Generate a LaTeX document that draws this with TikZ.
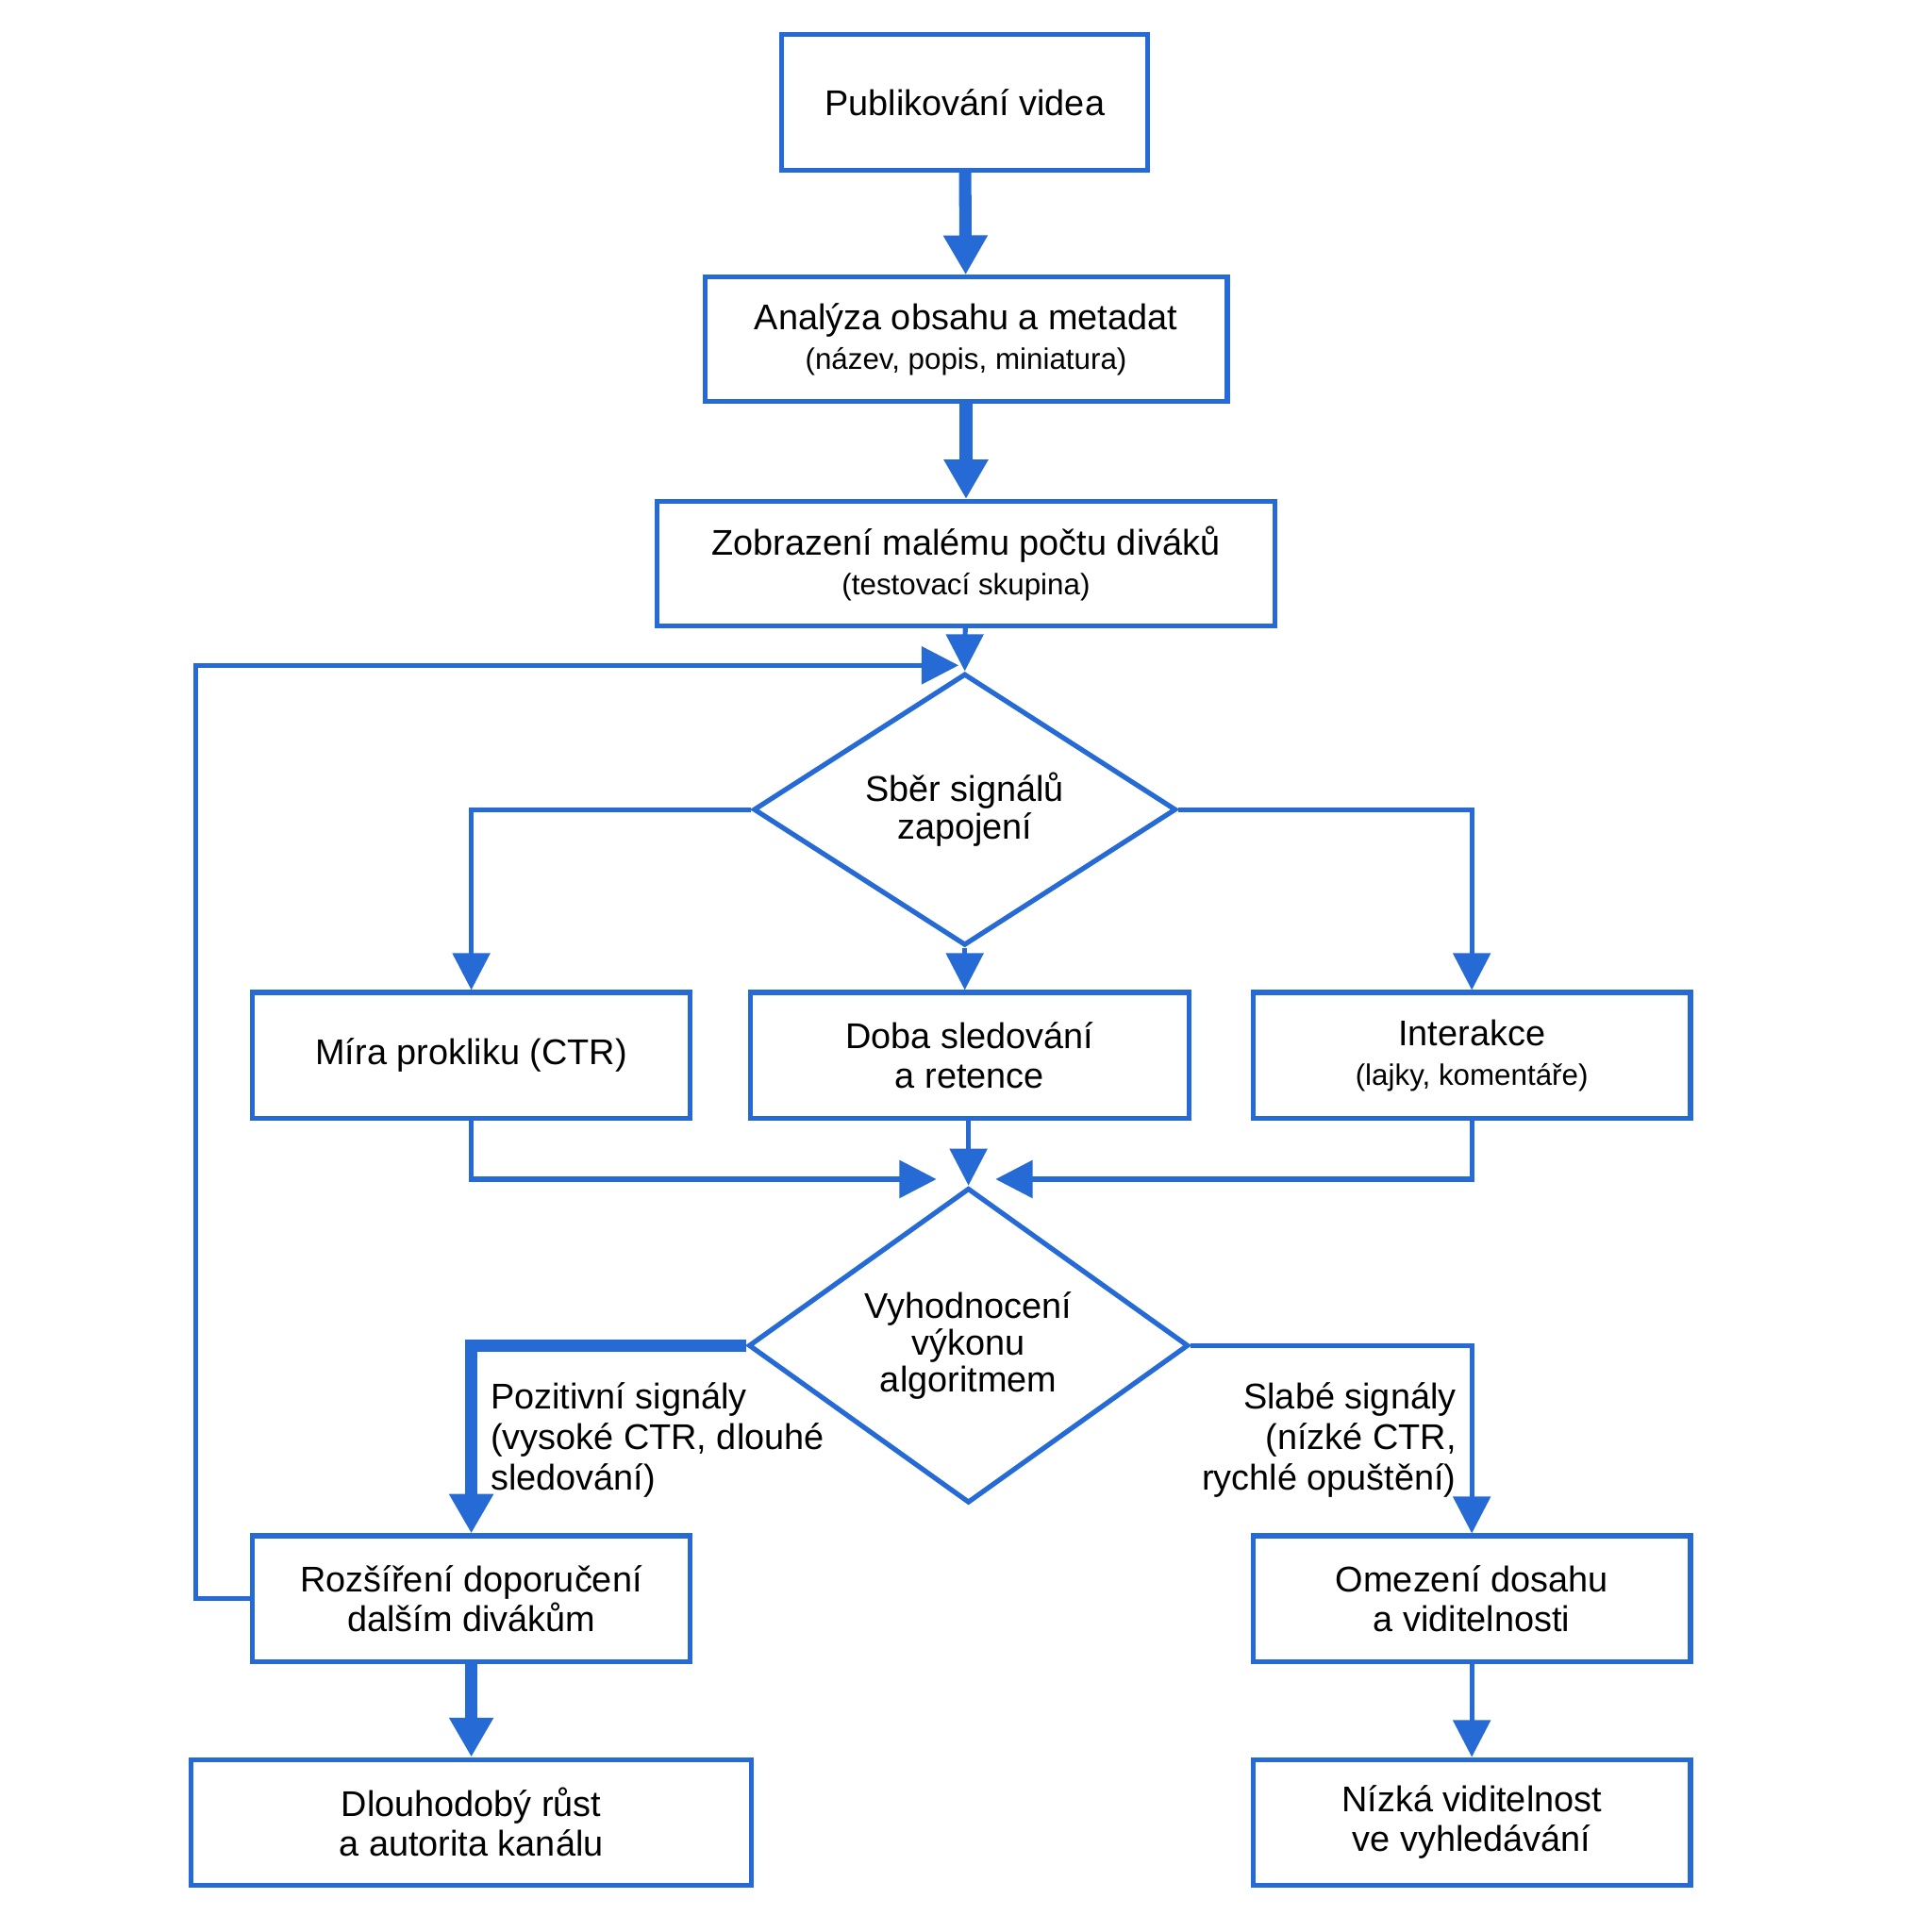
\documentclass[tikz,border=0pt]{standalone}
\usepackage{fontspec}
\setmainfont{Liberation Sans}
\usetikzlibrary{shapes.geometric,arrows.meta}
\definecolor{flowblue}{RGB}{38,106,214}
\tikzset{
  box/.style={draw=flowblue, line width=4pt, fill=white, inner sep=0pt, align=center,
    minimum width=355pt, minimum height=102pt, font=\fontsize{29}{36}\selectfont},
  decision/.style={draw=flowblue, line width=4pt, shape=diamond, inner sep=0pt, align=center,
    font=\fontsize{29}{36}\selectfont},
  flow/.style={draw=flowblue, line width=4pt, -{Triangle[length=30pt,width=30pt]}},
  bigflow/.style={draw=flowblue, line width=10pt, -{Triangle[length=32pt,width=34pt]}},
  lbl/.style={font=\fontsize{29}{33}\selectfont, inner sep=0pt}
}
\newcommand{\sub}[1]{{\fontsize{24}{28}\selectfont #1}}
\begin{document}
\begin{tikzpicture}[x=1pt,y=-1pt]
\useasboundingbox (0,0) rectangle (1568,1568);

% boxes at the top
\node[box, minimum width=297pt, minimum height=110pt] (publish) at (783,83) {Publikování videa};
\node[box, minimum width=424pt, minimum height=101pt] (analyse) at (784,275.5)
  {Analýza obsahu a metadat\\[-4pt]\sub{(název, popis, miniatura)}};
\node[box, minimum width=502pt, minimum height=101pt] (test) at (784,457.5)
  {Zobrazení malému počtu diváků\\[-4pt]\sub{(testovací skupina)}};

% first decision
\node[decision, minimum width=343pt, minimum height=148pt] (signals) at (783,657) {Sběr signálů\\[-6pt]zapojení};
\coordinate (join) at (783,540);

% signal boxes
\node[box] (ctr) at (382.5,856.5) {Míra prokliku (CTR)};
\node[box, minimum width=356pt] (watch) at (787,856.5) {Doba sledování\\[-4pt]a retence};
\node[box] (interact) at (1194.5,856.5)
  {Interakce\\[-4pt]\sub{(lajky, komentáře)}};

% second decision
\node[decision, minimum width=357pt, minimum height=215pt] (evaluate) at (786,1092)
  {Vyhodnocení\\[-6pt]výkonu\\[-6pt]algoritmem};

% outcomes
\node[box] (expand) at (382.5,1297.5) {Rozšíření doporučení\\[-4pt]dalším divákům};
\node[box] (limit) at (1194.5,1297.5) {Omezení dosahu\\[-4pt]a viditelnosti};
\node[box, minimum width=455pt] (growth) at (382.5,1479) {Dlouhodobý růst\\[-4pt]a autorita kanálu};
\node[box] (low) at (1194.5,1479) {Nízká viditelnost\\[-4pt]ve vyhledávání};

% connectors
\draw[bigflow] (publish) -- (analyse);
\draw[bigflow] (analyse) -- (test);
\draw[draw=flowblue, line width=4pt] (test) -- (join);
\draw[flow] (join) -- (signals);
\draw[flow] (expand.west) -- (159,1297.5) -- (159,540) -- ([xshift=-5pt]join);
\draw[flow] (signals.west) -| (ctr.north);
\draw[flow] (signals) -- (watch.north -| signals);
\draw[flow] (signals.east) -| (interact.north);
\draw[flow] (ctr.south) |- (760,957);
\draw[flow] (interact.south) |- (808,957);
\draw[flow] (watch.south -| evaluate) -- (evaluate.north);
\draw[bigflow] (evaluate.west) -| (expand.north);
\draw[flow] (evaluate.east) -| (limit.north);
\draw[bigflow] (expand) -- (growth);
\draw[flow] (limit) -- (low);

% branch labels
\node[lbl, anchor=north west, align=left] (poslbl) at (398,1122)
  {Pozitivní signály\\(vysoké CTR, dlouhé\\sledování)};
\node[lbl, anchor=north east, align=right] (weaklbl) at (1182,1122)
  {Slabé signály\\(nízké CTR,\\rychlé opuštění)};
\end{tikzpicture}
\end{document}
